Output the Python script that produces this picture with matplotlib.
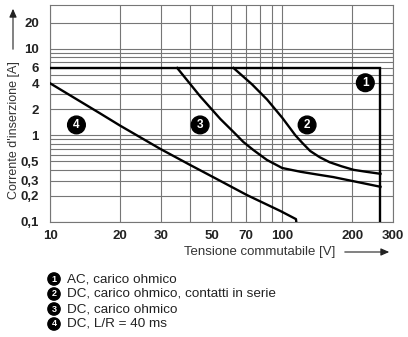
import matplotlib
matplotlib.use("Agg")
import matplotlib.pyplot as plt
from matplotlib.patches import FancyArrowPatch
from matplotlib.ticker import FixedLocator, NullFormatter

# Curve data: switching voltage [V] vs. inrush current [A]
ac_v = [10, 265, 265]
ac_i = [6, 6, 0.1]

dc_series_v = [61.7, 74, 86, 100, 114, 122, 132, 145, 160, 180, 203, 230, 265]
dc_series_i = [6, 3.9, 2.6, 1.6, 1.0, 0.82, 0.66, 0.56, 0.49, 0.44, 0.40, 0.38, 0.36]

dc_ohm_v = [35.3, 44.3, 54.1, 62, 68, 75, 86, 100, 120, 140, 166, 210, 265]
dc_ohm_i = [6, 2.83, 1.55, 1.08, 0.84, 0.68, 0.52, 0.42, 0.38, 0.355, 0.33, 0.29, 0.255]

dc_lr_v = [10, 16.4, 20, 29.8, 40.1, 52.2, 70.4, 98.2, 114.6, 115]
dc_lr_i = [4, 1.8, 1.3, 0.70, 0.456, 0.314, 0.205, 0.134, 0.108, 0.1]

curve_labels = ["1", "2", "3", "4"]
label_v = [228, 128, 44.3, 13.0]
label_i = [4.05, 1.32, 1.32, 1.32]

legend_texts = [
    "AC, carico ohmico",
    "DC, carico ohmico, contatti in serie",
    "DC, carico ohmico",
    "DC, L/R = 40 ms",
]

x_ticks = [10, 20, 30, 50, 70, 100, 200, 300]
x_ticklabels = ["10", "20", "30", "50", "70", "100", "200", "300"]
x_grid = [10, 20, 30, 40, 50, 60, 70, 80, 90, 100, 200, 300]

y_ticks = [0.1, 0.2, 0.3, 0.5, 1, 2, 4, 6, 10, 20]
y_ticklabels = ["0,1", "0,2", "0,3", "0,5", "1", "2", "4", "6", "10", "20"]
y_grid = [0.1, 0.2, 0.3, 0.4, 0.5, 0.6, 0.7, 0.8, 0.9,
          1, 2, 3, 4, 5, 6, 7, 8, 9, 10, 20]

plt.rcParams["font.family"] = ["Liberation Sans", "DejaVu Sans"]

W, H = 408, 337
fig = plt.figure(figsize=(W / 100, H / 100), dpi=100)
ax = fig.add_axes([50 / W, 1 - 222 / H, (393 - 50) / W, (222 - 5) / H])
ax.set_xscale("log")
ax.set_yscale("log")
ax.set_xlim(10, 300)
ax.set_ylim(0.1, 32)

grid_color = "#767676"
for v in x_grid:
    ax.axvline(v, color=grid_color, lw=0.8, zorder=1)
for c in y_grid:
    ax.axhline(c, color=grid_color, lw=0.8, zorder=1)

ax.xaxis.set_major_locator(FixedLocator(x_ticks))
ax.xaxis.set_minor_locator(FixedLocator([]))
ax.set_xticklabels(x_ticklabels)
ax.yaxis.set_major_locator(FixedLocator(y_ticks))
ax.yaxis.set_minor_locator(FixedLocator([]))
ax.yaxis.set_minor_formatter(NullFormatter())
ax.xaxis.set_minor_formatter(NullFormatter())
ax.set_yticklabels(y_ticklabels)
ax.tick_params(axis="x", length=0, labelsize=9.5, pad=6)
ax.tick_params(axis="y", length=0, labelsize=9.5, pad=8)
for lab in ax.get_xticklabels() + ax.get_yticklabels():
    lab.set_fontweight("bold")
    lab.set_color("#222222")

for s in ax.spines.values():
    s.set_color(grid_color)
    s.set_linewidth(0.8)

lw = 1.7
ax.plot(ac_v, ac_i, color="black", lw=lw, zorder=3, solid_joinstyle="miter")
ax.plot(dc_series_v, dc_series_i, color="black", lw=lw, zorder=3)
ax.plot(dc_ohm_v, dc_ohm_i, color="black", lw=lw, zorder=3)
ax.plot(dc_lr_v, dc_lr_i, color="black", lw=lw, zorder=3)

for t, v, c in zip(curve_labels, label_v, label_i):
    ax.text(v, c, t, color="white", fontsize=8.5, fontweight="bold",
            ha="center", va="center", zorder=5,
            bbox=dict(boxstyle="circle,pad=0.24", fc="black", ec="black"))

# Axis titles with arrows
fig.text(14 / W, 1 - 130 / H, "Corrente d'inserzione [A]", rotation=90,
         ha="center", va="center", fontsize=9, color="#333333")
fig.add_artist(FancyArrowPatch(
    (13 / W, 1 - 52 / H), (13 / W, 1 - 6 / H), transform=fig.transFigure,
    arrowstyle="-|>,head_length=5,head_width=2.2", color="#222222", lw=0.8))

fig.text(335 / W, 1 - 252 / H, "Tensione commutabile [V]", ha="right",
         va="center", fontsize=9.5, color="#333333")
fig.add_artist(FancyArrowPatch(
    (342 / W, 1 - 252 / H), (392 / W, 1 - 252 / H), transform=fig.transFigure,
    arrowstyle="-|>,head_length=5,head_width=2.2", color="#222222", lw=0.8))

# Legend
for k, (t, txt) in enumerate(zip(curve_labels, legend_texts)):
    y = 1 - (279 + 15 * k) / H
    fig.text(54 / W, y, t, color="white", fontsize=6.5, fontweight="bold",
             ha="center", va="center",
             bbox=dict(boxstyle="circle,pad=0.18", fc="black", ec="black"))
    fig.text(67 / W, y, txt, ha="left", va="center", fontsize=9.7,
             color="#222222")

fig.savefig("out.png", dpi=100)
